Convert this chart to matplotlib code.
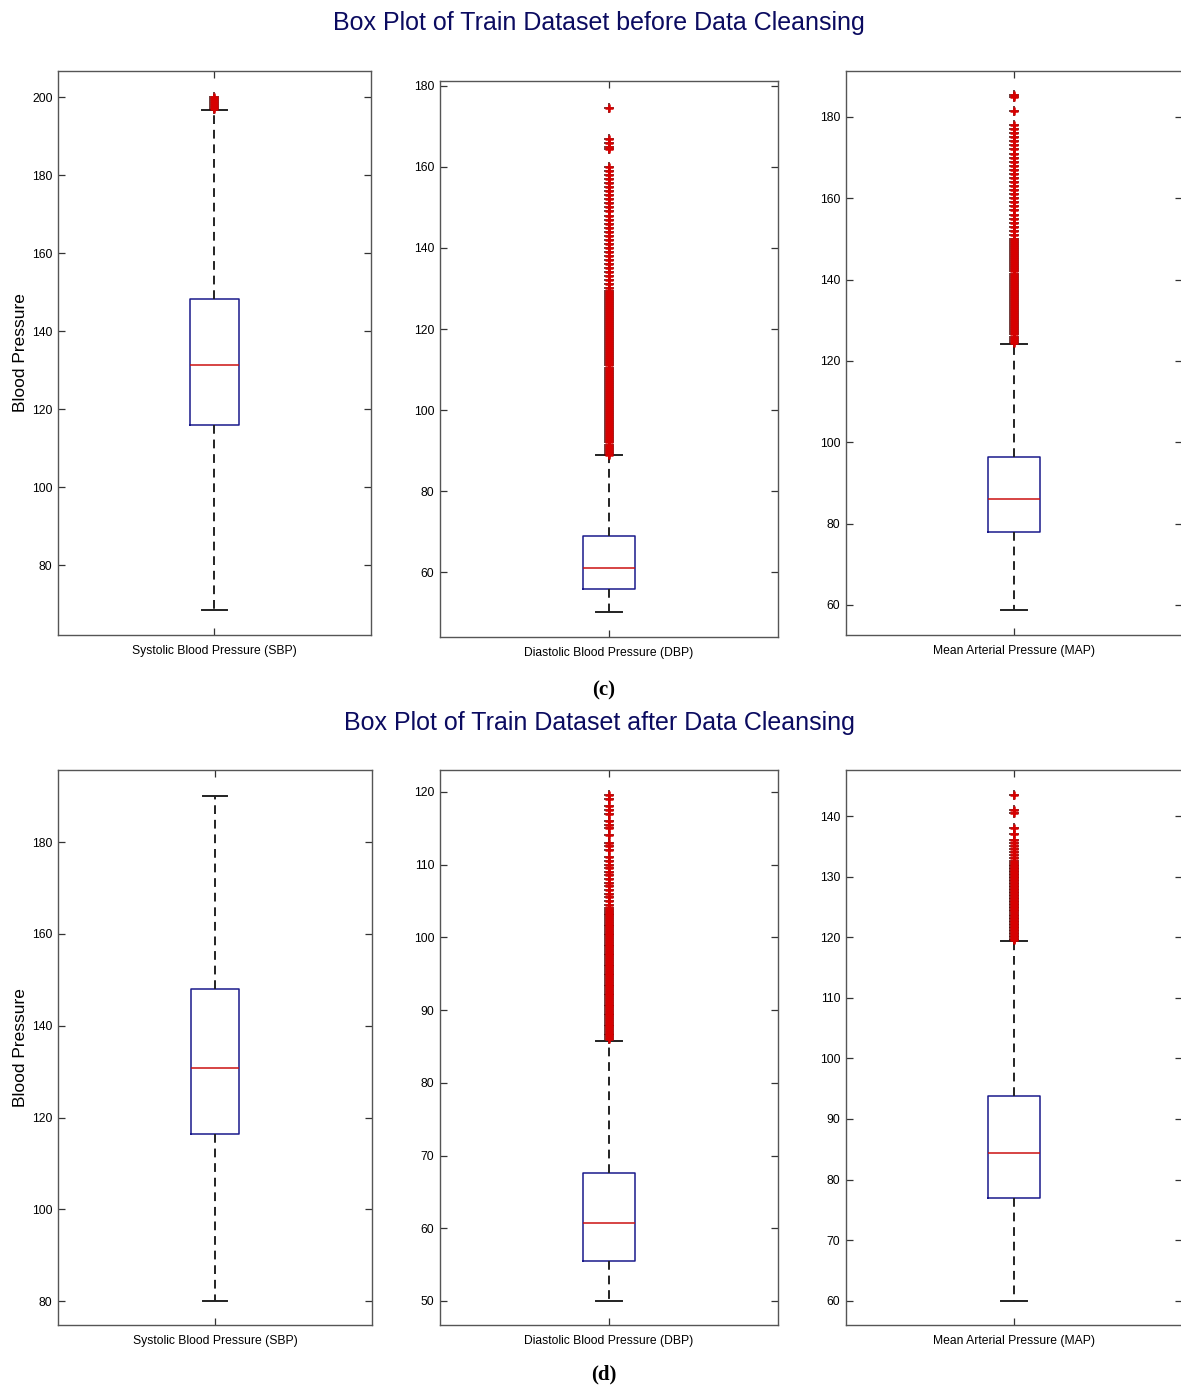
import matplotlib
matplotlib.use('Agg')
import matplotlib.pyplot as plt

# ---------------- data ----------------
categories = ["Systolic Blood Pressure (SBP)",
              "Diastolic Blood Pressure (DBP)",
              "Mean Arterial Pressure (MAP)"]
titles = ["Box Plot of Train Dataset before Data Cleansing",
          "Box Plot of Train Dataset after Data Cleansing"]
panel_tags = ["(c)", "(d)"]

# five-number summaries: whisker low, Q1, median, Q3, whisker high
sbp_before = [68.5, 116.0, 131.3, 148.2, 196.7]
dbp_before = [50.1, 55.8, 61.0, 68.9, 88.9]
map_before = [58.8, 77.9, 86.1, 96.4, 124.2]
sbp_after = [80.0, 116.4, 130.8, 148.0, 190.0]
dbp_after = [50.0, 55.5, 60.7, 67.6, 85.8]
map_after = [60.0, 77.0, 84.4, 93.8, 119.4]

# outliers
sbp_before_fliers = [197, 197.5, 198, 198.5, 199, 199.5, 200]
dbp_before_fliers = [89, 89.5, 90, 90.5, 91, 91.5, 92, 92.5, 93, 93.5, 94, 94.5, 95, 95.5,
                     96, 96.5, 97, 97.5, 98, 98.5, 99, 99.5, 100, 100.5, 101, 101.5, 102,
                     102.5, 103, 103.5, 104, 104.5, 105, 105.5, 106, 106.5, 107, 107.5, 108,
                     108.5, 109, 109.5, 110, 110.5, 111, 111.5, 112, 112.5, 113, 113.5, 114,
                     114.5, 115, 115.5, 116, 116.5, 117, 117.5, 118, 118.5, 119, 119.5, 120,
                     120.5, 121, 121.5, 122, 122.5, 123, 123.5, 124, 124.5, 125, 125.5, 126,
                     126.5, 127, 127.5, 128, 128.5, 129, 129.5, 130, 131, 132, 133, 134, 135,
                     136, 137, 138, 139, 140, 141, 142, 143, 144, 145, 146, 147, 148, 149,
                     150, 151, 152, 153, 154, 155, 156, 157, 158, 159, 160, 164.5, 165,
                     166, 167, 174.5]
map_before_fliers = [124.5, 125, 125.5, 126, 126.5, 127, 127.5, 128, 128.5, 129, 129.5, 130,
                     130.5, 131, 131.5, 132, 132.5, 133, 133.5, 134, 134.5, 135, 135.5, 136,
                     136.5, 137, 137.5, 138, 138.5, 139, 139.5, 140, 140.5, 141, 141.5, 142,
                     142.5, 143, 143.5, 144, 144.5, 145, 145.5, 146, 146.5, 147, 147.5, 148,
                     148.5, 149, 149.5, 150, 151, 152, 153, 154, 155, 156, 157, 158, 159,
                     160, 161, 162, 163, 164, 165, 166, 167, 168, 169, 170, 171, 172, 173,
                     174, 175, 176, 177, 178, 181.5, 185, 185.5]
sbp_after_fliers = []
dbp_after_fliers = [86, 86.25, 86.5, 86.75, 87, 87.25, 87.5, 87.75, 88, 88.25, 88.5, 88.75,
                    89, 89.25, 89.5, 89.75, 90, 90.25, 90.5, 90.75, 91, 91.25, 91.5, 91.75,
                    92, 92.25, 92.5, 92.75, 93, 93.25, 93.5, 93.75, 94, 94.25, 94.5, 94.75,
                    95, 95.25, 95.5, 95.75, 96, 96.25, 96.5, 96.75, 97, 97.25, 97.5, 97.75,
                    98, 98.25, 98.5, 98.75, 99, 99.25, 99.5, 99.75, 100, 100.25, 100.5,
                    100.75, 101, 101.25, 101.5, 101.75, 102, 102.25, 102.5, 102.75, 103,
                    103.25, 103.5, 103.75, 104, 104.5, 105, 105.5, 106, 106.5, 107, 107.5,
                    108, 108.5, 109, 109.5, 110, 110.5, 111, 112, 112.5, 113, 114, 115,
                    115.5, 116, 117, 117.5, 118, 119, 119.5]
map_after_fliers = [119.5, 119.75, 120, 120.25, 120.5, 120.75, 121, 121.25, 121.5, 121.75,
                    122, 122.25, 122.5, 122.75, 123, 123.25, 123.5, 123.75, 124, 124.25,
                    124.5, 124.75, 125, 125.25, 125.5, 125.75, 126, 126.25, 126.5, 126.75,
                    127, 127.25, 127.5, 127.75, 128, 128.25, 128.5, 128.75, 129, 129.25,
                    129.5, 129.75, 130, 130.25, 130.5, 130.75, 131, 131.25, 131.5, 131.75,
                    132, 132.25, 132.5, 133, 133.5, 134, 134.5, 135, 135.5, 136, 137, 138,
                    140.5, 141, 143.5]

stats_rows = [[sbp_before, dbp_before, map_before], [sbp_after, dbp_after, map_after]]
flier_rows = [[sbp_before_fliers, dbp_before_fliers, map_before_fliers],
              [sbp_after_fliers, dbp_after_fliers, map_after_fliers]]

ylims = [[(62.1, 206.7), (44.0, 181.2), (52.6, 191.3)],
         [(74.8, 195.7), (46.7, 123.0), (56.0, 147.6)]]
yticks = [[[80, 100, 120, 140, 160, 180, 200], [60, 80, 100, 120, 140, 160, 180],
           [60, 80, 100, 120, 140, 160, 180]],
          [[80, 100, 120, 140, 160, 180], [50, 60, 70, 80, 90, 100, 110, 120],
           [60, 70, 80, 90, 100, 110, 120, 130, 140]]]

# ---------------- layout ----------------
W, H = 1181, 1387
fig = plt.figure(figsize=(W / 100, H / 100), dpi=100)
plt.rcParams['font.family'] = ['Liberation Sans', 'DejaVu Sans']


def px_axes(x0, y0, x1, y1):
    return fig.add_axes([x0 / W, 1 - y1 / H, (x1 - x0) / W, (y1 - y0) / H])


boxes_px = [[(58, 71, 371, 635), (440, 81, 778, 637), (846, 71, 1182, 635)],
            [(58, 770, 372, 1325), (440, 770, 778, 1325), (846, 770, 1182, 1325)]]

spine_c = '#555555'
for r in range(2):
    for c in range(3):
        ax = px_axes(*boxes_px[r][c])
        s = stats_rows[r][c]
        fl = flier_rows[r][c]
        st = dict(whislo=s[0], q1=s[1], med=s[2], q3=s[3], whishi=s[4], fliers=fl,
                  label=categories[c])
        ax.bxp([st], positions=[1], widths=0.155, capwidths=0.078, showfliers=True,
               boxprops=dict(color='#1a1a8c', linewidth=1.1),
               medianprops=dict(color='#cc1111', linewidth=1.1),
               whiskerprops=dict(color='#222222', linewidth=1.4, linestyle=(0, (4.5, 3))),
               capprops=dict(color='#222222', linewidth=1.4),
               flierprops=dict(marker='+', markersize=7.5, markeredgewidth=1.1,
                               markeredgecolor='#4a0808', linestyle='none'))
        if fl:
            ax.plot([1] * len(fl), fl, linestyle='none', marker='+', markersize=6.3,
                    markeredgewidth=1.8, color='#d80000', zorder=3)
        ax.set_xlim(0.5, 1.5)
        ax.set_ylim(*ylims[r][c])
        ax.set_yticks(yticks[r][c])
        ax.set_xticks([1])
        ax.set_xticklabels([categories[c]], fontsize=9)
        ax.tick_params(axis='both', direction='in', top=True, right=True, length=5,
                       width=0.9, color='#333333', labelsize=8.7, pad=4)
        ax.tick_params(axis='x', pad=7)
        for sp in ax.spines.values():
            sp.set_color(spine_c)
            sp.set_linewidth(1.0)
        if c == 0:
            ax.set_ylabel("Blood Pressure", fontsize=12.5, labelpad=3)

fig.text(599 / W, 1 - 23 / H, titles[0], ha='center', va='center', fontsize=18,
         color='#0b0b60')
fig.text(599 / W, 1 - 723 / H, titles[1], ha='center', va='center', fontsize=18,
         color='#0b0b60')
fig.text(604 / W, 1 - 690 / H, panel_tags[0], ha='center', va='center', fontsize=15,
         family=['Liberation Serif', 'DejaVu Serif'], fontweight='bold')
fig.text(604 / W, 1 - 1374 / H, panel_tags[1], ha='center', va='center', fontsize=15,
         family=['Liberation Serif', 'DejaVu Serif'], fontweight='bold')

fig.savefig('out.png', dpi=100, facecolor='white')
